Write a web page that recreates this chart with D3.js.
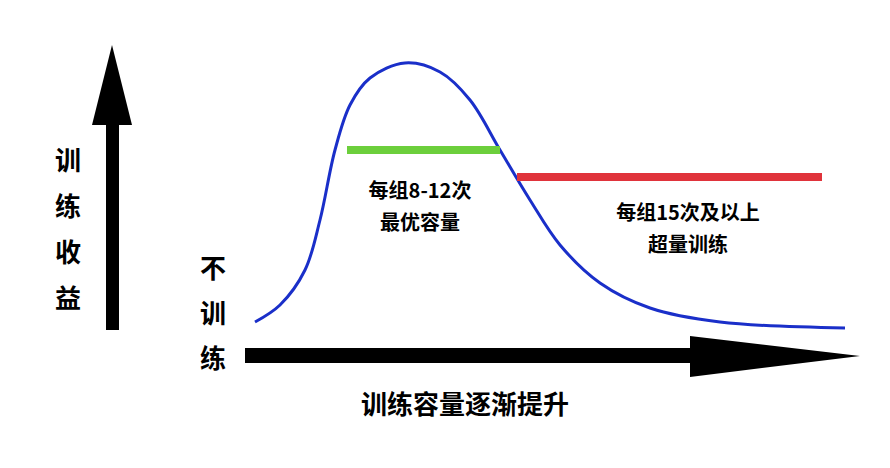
<!DOCTYPE html>
<html><head><meta charset="utf-8">
<script src="https://cdn.jsdelivr.net/npm/d3@7"></script>
<style>body{margin:0;background:#fff}text{font-family:"Noto Sans CJK SC",sans-serif}</style>
</head><body><svg id="c" width="890" height="468"></svg>
<script>
// Curve of benefit against training volume (arbitrary units).
var volume = [0, 2.5, 5, 6.5, 8, 9.5, 11.5, 15, 18.5, 21.5, 24.5, 27.5, 30.5, 34.5, 39.5, 46.5, 59];
var benefit = [0.8, 2.5, 6, 11, 18, 22.5, 25.2, 26.7, 25.8, 23, 18, 13, 8.5, 4.7, 2.2, 0.8, 0.2];

// Zones: [start, end, level]
var zoneOptimal = [9.2, 24.5, 18];
var zoneOver = [26.2, 56.7, 15.3];
var zoneLabels = [['每组8-12次', '最优容量'], ['每组15次及以上', '超量训练']];
var axisLabelY = ['训', '练', '收', '益'];
var noTrainLabel = ['不', '训', '练'];
var axisLabelX = '训练容量逐渐提升';

var svg = d3.select('#c');
var x = d3.scaleLinear().domain([0, 59]).range([255, 845]);
var y = d3.scaleLinear().domain([0, 27]).range([330, 60]);

// Axes drawn as thick arrows.
svg.append('rect').attr('x', 106).attr('y', 118).attr('width', 13).attr('height', 212).attr('fill', '#000');
svg.append('path').attr('d', 'M112,45 L132,125 L92,125 Z').attr('fill', '#000');
svg.append('rect').attr('x', 245).attr('y', 348).attr('width', 450).attr('height', 15).attr('fill', '#000');
svg.append('path').attr('d', 'M690,336 L860,356 L690,377 Z').attr('fill', '#000');

svg.selectAll('.yl').data(axisLabelY).enter().append('text')
	.attr('x', 68).attr('y', (d, i) => 170 + i * 46)
	.attr('text-anchor', 'middle').attr('font-size', 26).attr('font-weight', 'bold').text(d => d);
svg.selectAll('.nl').data(noTrainLabel).enter().append('text')
	.attr('x', 213).attr('y', (d, i) => 278 + i * 45)
	.attr('text-anchor', 'middle').attr('font-size', 26).attr('font-weight', 'bold').text(d => d);
svg.append('text').attr('x', 465).attr('y', 414).attr('text-anchor', 'middle')
	.attr('font-size', 26).attr('font-weight', 'bold').text(axisLabelX);

// Benefit curve.
var line = d3.line().x(d => x(d[0])).y(d => y(d[1])).curve(d3.curveCatmullRom);
svg.append('path').datum(d3.zip(volume, benefit)).attr('d', line)
	.attr('fill', 'none').attr('stroke', '#1a2fc9').attr('stroke-width', 3);

// Zone bars.
[[zoneOptimal, '#6ccf3c'], [zoneOver, '#e0333b']].forEach(function(z) {
	svg.append('line').attr('x1', x(z[0][0])).attr('x2', x(z[0][1]))
		.attr('y1', y(z[0][2])).attr('y2', y(z[0][2]))
		.attr('stroke', z[1]).attr('stroke-width', 8);
});

var labelPos = [[420, 198], [688, 220]];
zoneLabels.forEach(function(lines, k) {
	lines.forEach(function(t, i) {
		svg.append('text').attr('x', labelPos[k][0]).attr('y', labelPos[k][1] + i * 32)
			.attr('text-anchor', 'middle').attr('font-size', 20).attr('font-weight', 'bold').text(t);
	});
});
</script></body></html>
